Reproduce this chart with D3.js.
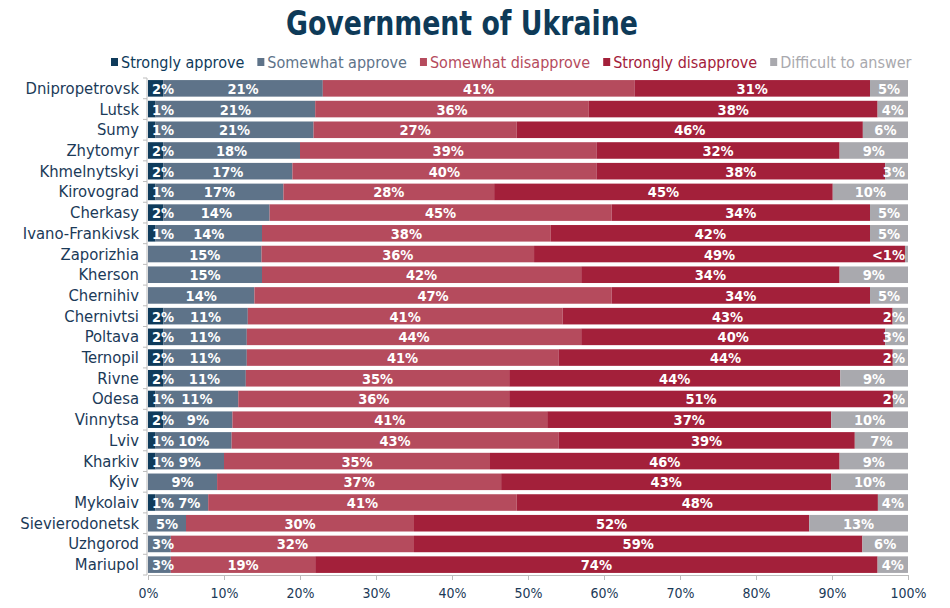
<!DOCTYPE html>
<meta charset="utf-8">
<html>
<style>
body { margin: 0; background: #fff; }
svg { display: block; background: #fff; }
text { font-family: "DejaVu Sans Condensed", "DejaVu Sans", sans-serif; }
.title { font-weight: bold; fill: #0e3a58; }
.val { fill: #fff; font-size: 14.5px; font-weight: bold; }
.axis text { fill: #1b3a58; font-size: 14px; }
.axis text.cat { font-size: 16.5px; }
.axis path, .axis line { stroke: #bcbcbc; }
</style>
<body>
<script src="https://cdnjs.cloudflare.com/ajax/libs/d3/7.8.5/d3.min.js"></script>
<script>
	var width = 950;
	var height = 608;
	var margin = {top: 78, right: 42, bottom: 33, left: 148};

	var cities = ["Dnipropetrovsk", "Lutsk", "Sumy", "Zhytomyr", "Khmelnytskyi", "Kirovograd",
		"Cherkasy", "Ivano-Frankivsk", "Zaporizhia", "Kherson", "Chernihiv", "Chernivtsi",
		"Poltava", "Ternopil", "Rivne", "Odesa", "Vinnytsa", "Lviv", "Kharkiv", "Kyiv",
		"Mykolaiv", "Sievierodonetsk", "Uzhgorod", "Mariupol"];

	var seriesNames = ["Strongly approve", "Somewhat approve", "Somewhat disapprove", "Strongly disapprove", "Difficult to answer"];
	var seriesColors = ["#0f3b5b", "#5e7389", "#b54b5d", "#a3203a", "#a9a9ae"];

	var stronglyApprove    = [2, 1, 1, 2, 2, 1, 2, 1, 0, 0, 0, 2, 2, 2, 2, 1, 2, 1, 1, 0, 1, 0, 0, 0];
	var somewhatApprove    = [21, 21, 21, 18, 17, 17, 14, 14, 15, 15, 14, 11, 11, 11, 11, 11, 9, 10, 9, 9, 7, 5, 3, 3];
	var somewhatDisapprove = [41, 36, 27, 39, 40, 28, 45, 38, 36, 42, 47, 41, 44, 41, 35, 36, 41, 43, 35, 37, 41, 30, 32, 19];
	var stronglyDisapprove = [31, 38, 46, 32, 38, 45, 34, 42, 49, 34, 34, 43, 40, 44, 44, 51, 37, 39, 46, 43, 48, 52, 59, 74];
	// 0.4 stands for "<1%"
	var difficultToAnswer  = [5, 4, 6, 9, 3, 10, 5, 5, 0.4, 9, 5, 2, 3, 2, 9, 2, 10, 7, 9, 10, 4, 13, 6, 4];

	var xTicks = [0, 0.1, 0.2, 0.3, 0.4, 0.5, 0.6, 0.7, 0.8, 0.9, 1];

	var table = cities.map(function(c, i) {
		return {
			city: c,
			"Strongly approve": stronglyApprove[i],
			"Somewhat approve": somewhatApprove[i],
			"Somewhat disapprove": somewhatDisapprove[i],
			"Strongly disapprove": stronglyDisapprove[i],
			"Difficult to answer": difficultToAnswer[i]
		};
	});

	var svg = d3.select("body").append("svg")
		.attr("width", width)
		.attr("height", height);

	svg.append("text")
		.attr("class", "title")
		.attr("x", 462)
		.attr("y", 35)
		.attr("text-anchor", "middle")
		.style("font-size", "33px")
		.attr("textLength", 352)
		.attr("lengthAdjust", "spacingAndGlyphs")
		.text("Government of Ukraine");

	// legend
	var legend = svg.append("g").attr("class", "legend");
	var lx = 111;
	seriesNames.forEach(function(name, i) {
		legend.append("rect")
			.attr("x", lx).attr("y", 58)
			.attr("width", 7).attr("height", 8)
			.attr("fill", seriesColors[i]);
		var t = legend.append("text")
			.attr("x", lx + 10).attr("y", 68)
			.style("font-size", "16px")
			.attr("fill", seriesColors[i])
			.text(name);
		lx += 10 + t.node().getComputedTextLength() + 13;
	});

	var stack = d3.stack().keys(seriesNames).offset(d3.stackOffsetExpand);
	var stacked = stack(table);

	var x = d3.scaleLinear().domain([0, 1]).range([margin.left, width - margin.right]);
	var y = d3.scaleBand().domain(cities).range([margin.top, height - margin.bottom]).paddingInner(0.2).paddingOuter(0.1);

	var layers = svg.append("g").selectAll("g")
		.data(stacked)
		.enter().append("g")
		.attr("fill", function(d, i) { return seriesColors[i]; });

	layers.selectAll("rect")
		.data(function(d) { return d; })
		.enter().append("rect")
		.attr("x", function(d) { return x(d[0]); })
		.attr("y", function(d) { return y(d.data.city); })
		.attr("width", function(d) { return x(d[1]) - x(d[0]); })
		.attr("height", y.bandwidth());

	// value labels, kept inside the bar and clear of the previous label
	var labels = svg.append("g");
	var lastRight = {};
	stacked.forEach(function(layer) {
		layer.forEach(function(d) {
			var v = d.data[layer.key];
			if (v <= 0) return;
			var txt = v < 1 ? "<1%" : v + "%";
			var t = labels.append("text")
				.attr("class", "val")
				.attr("y", y(d.data.city) + y.bandwidth() / 2 + 5.5)
				.attr("text-anchor", "middle")
				.text(txt);
			var w = t.node().getComputedTextLength();
			var cx = (x(d[0]) + x(d[1])) / 2;
			if (cx - w / 2 < x(0) + 4) cx = x(0) + 4 + w / 2;
			var prev = lastRight[d.data.city];
			if (prev !== undefined && cx - w / 2 < prev + 4) cx = prev + 4 + w / 2;
			if (cx + w / 2 > x(1) - 3) cx = x(1) - 3 - w / 2;
			t.attr("x", cx);
			lastRight[d.data.city] = cx + w / 2;
		});
	});

	// axes
	var xAxis = d3.axisBottom(x).tickValues(xTicks).tickFormat(d3.format(".0%")).tickSize(5).tickSizeOuter(0);
	svg.append("g")
		.attr("class", "axis")
		.attr("transform", "translate(0," + (height - margin.bottom) + ")")
		.call(xAxis)
		.selectAll("text").attr("dy", "1.05em");

	var yAxis = svg.append("g")
		.attr("class", "axis")
		.attr("transform", "translate(" + (margin.left - 1) + ",0)");
	yAxis.append("line")
		.attr("y1", margin.top).attr("y2", height - margin.bottom);
	yAxis.selectAll("line.tick")
		.data(d3.range(cities.length + 1))
		.enter().append("line")
		.attr("class", "tick")
		.attr("x1", -4).attr("x2", 0)
		.attr("y1", function(i) { return margin.top + i * y.step(); })
		.attr("y2", function(i) { return margin.top + i * y.step(); });
	yAxis.selectAll("text.cat")
		.data(cities)
		.enter().append("text")
		.attr("class", "cat")
		.attr("x", -8)
		.attr("y", function(d) { return y(d) + y.bandwidth() / 2 + 5.5; })
		.attr("text-anchor", "end")
		.text(function(d) { return d; });
</script>
</body>
</html>
